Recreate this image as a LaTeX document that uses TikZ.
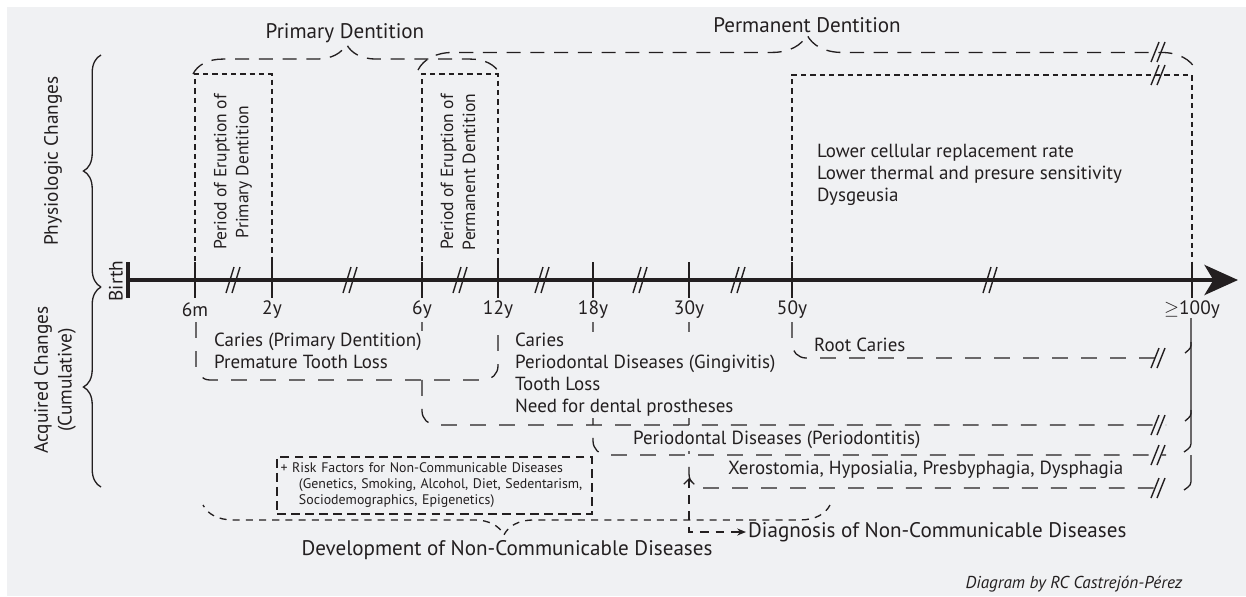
\documentclass[tikz,border=0pt]{standalone}
\usepackage{fontspec}
\setmainfont{PT Sans}
\usetikzlibrary{arrows.meta}
\usetikzlibrary{decorations.pathreplacing}
\definecolor{paper}{RGB}{240,241,243}
\definecolor{ink}{RGB}{35,31,32}
\newcommand{\cutmark}[3]{\draw[cutline] (#1-7,#2+#3) -- (#1+1,#2-#3) (#1-1,#2+#3) -- (#1+7,#2-#3);}

\tikzset{
  every node/.style={text=ink},
  axisline/.style={ink, line width=2.8pt},
  tickline/.style={ink, line width=0.7pt},
  cutline/.style={ink, line width=0.8pt},
  hookline/.style={ink, line width=0.75pt},
  boxdash/.style={ink, line width=0.7pt, dash pattern=on 3pt off 2.3pt},
  blockdash/.style={ink, line width=0.75pt, dash pattern=on 9pt off 7.5pt, rounded corners=8pt},
  riskdash/.style={ink, line width=0.75pt, dash pattern=on 5pt off 3pt},
  diagdash/.style={ink, line width=0.75pt, dash pattern=on 5pt off 4pt},
  topbrace/.style={ink, line width=0.75pt, dash pattern=on 8pt off 5.5pt, decorate, decoration={brace, amplitude=#1}},
  sidebrace/.style={ink, line width=0.75pt, decorate, decoration={brace, amplitude=10pt}},
  devbrace/.style={ink, line width=0.75pt, dash pattern=on 4pt off 3.5pt, decorate, decoration={brace, amplitude=17pt, aspect=0.52}},
  ticklab/.style={font=\fontsize{11}{13}\selectfont},
  biglab/.style={font=\fontsize{12}{14}\selectfont},
  sidelab/.style={font=\fontsize{11}{13.5}\selectfont, rotate=90, align=center},
  eruptlab/.style={font=\fontsize{10}{12.5}\selectfont, rotate=90, align=center},
  blocktext/.style={font=\fontsize{10.8}{12.5}\selectfont, align=left, anchor=west, fill=paper, inner sep=1pt},
  riskbox/.style={draw, riskdash, font=\fontsize{7.9}{9.1}\selectfont, align=left, text width=6.16cm, inner xsep=0.07cm, minimum height=1.14cm},
}

\begin{document}
\begin{tikzpicture}[x=0.02cm, y=-0.02cm]
  \useasboundingbox (0,0) rectangle (1246,596);
  \fill[white] (0,0) rectangle (1246,596);
  \fill[paper] (7,7) rectangle (1246,596);

  \draw[sidebrace] (101,287) -- (101,55);
  \draw[sidebrace] (101,487) -- (101,287);
  \node[sidelab] (physio) at (53,161) {Physiologic Changes};
  \node[sidelab] (acquired) at (55,380) {Acquired Changes\\(Cumulative)};

  \draw[boxdash] (195,280) -- (195,74) -- (272,74) -- (272,280);
  \draw[boxdash] (422,280) -- (422,74) -- (498,74) -- (498,280);
  \draw[boxdash] (792,280) -- (792,75) -- (1192,75) -- (1192,280);
  \draw[topbrace=17pt] (193,74) -- (500,74);
  \draw[topbrace=20pt] (418,70) -- (1196,70);
  \node[biglab] (primD) at (345,33) {Primary Dentition};
  \node[biglab] (permD) at (807,25) {Permanent Dentition};

  \draw[axisline, -{Stealth[length=19pt, width=17pt, inset=5pt]}] (128,280) -- (1238,280);
  \draw[ink, line width=2.4pt] (128,262) -- (128,298);
  \node[ticklab, rotate=90] (birth) at (116,281) {Birth};
  \foreach \x/\lab/\nm in {195/6m/m6, 272/2y/y2, 422/6y/y6, 498/12y/y12, 593/18y/y18, 689/30y/y30, 792/50y/y50, 1192/{$\geq$100y}/y100} {
    \draw[tickline] (\x,262) -- (\x,298);
    \node[ticklab] (\nm) at (\x,310) {\lab};
  }
  \foreach \x in {233,350,460,542,640,738,990} {\cutmark{\x}{280}{13}}

  \draw[blockdash] (196,322) -- (196,380) -- (498,380) -- (498,322);
  \draw[blockdash] (422,322) -- (422,425) -- (1166,425);
  \draw[blockdash] (593,322) -- (593,455) -- (1166,455);
  \draw[blockdash] (689,322) -- (689,488) -- (1166,488);
  \draw[blockdash] (792,322) -- (792,358) -- (1166,358);
  \foreach \y in {52,75,358,425,455,488} {\cutmark{1158}{\y}{10}}

  \draw[hookline] (1191,318) -- (1191,440) .. controls (1191,447) .. (1184,452);
  \draw[hookline] (1191,342) .. controls (1191,348) .. (1185,353);
  \draw[hookline] (1191,410) .. controls (1191,416) .. (1185,421);
  \draw[hookline] (1191,455) -- (1191,478) .. controls (1191,485) .. (1184,490);

  \node[eruptlab] (eruptP) at (233,172) {Period of Eruption of\\Primary Dentition};
  \node[eruptlab] (eruptM) at (458,172) {Period of Eruption of\\Permanent Dentition};
  \node[blocktext] (aging) at (815,175) {Lower cellular replacement rate\\Lower thermal and presure sensitivity\\Dysgeusia};

  \node[blocktext] (cariesP) at (212,351) {Caries (Primary Dentition)\\Premature Tooth Loss};
  \node[blocktext] (cariesM) at (513,375) {Caries\\Periodontal Diseases (Gingivitis)\\Tooth Loss\\Need for dental prostheses};
  \node[blocktext] (perio) at (631,440) {Periodontal Diseases (Periodontitis)};
  \node[blocktext] (xero) at (726,470) {Xerostomia, Hyposialia, Presbyphagia, Dysphagia};
  \node[blocktext] (root) at (812,345) {Root Caries};

  \draw[devbrace] (830,505) -- (203,505);
  \node[riskbox] (risk) at (434.5,485.5) {+ Risk Factors for Non-Communicable Diseases\\\hspace*{10.5pt}(Genetics, Smoking, Alcohol, Diet, Sedentarism,\\\hspace*{10.5pt}Sociodemographics, Epigenetics)};
  \node[biglab] (develop) at (507,550) {Development of Non-Communicable Diseases};
  \node[biglab, anchor=west, inner sep=1pt] (diag) at (746,532) {Diagnosis of Non-Communicable Diseases};
  \draw[diagdash, {Straight Barb[length=3pt, width=6pt]}-{Stealth[length=5pt, width=4pt]}] (689,478) |- (diag.west);

  \node[font=\fontsize{9.8}{11}\selectfont\itshape] (credit) at (1074,584) {Diagram by RC Castrejón-Pérez};
\end{tikzpicture}
\end{document}
